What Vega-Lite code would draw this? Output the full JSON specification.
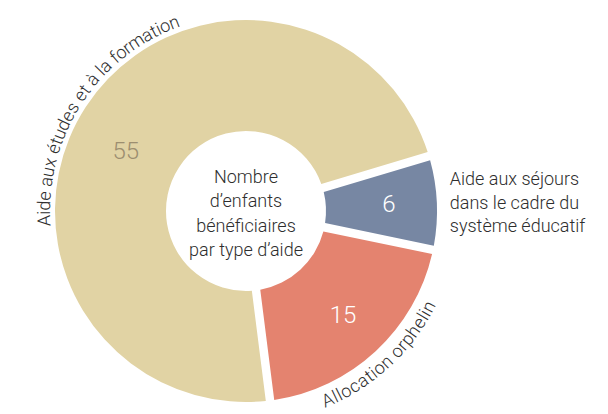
{
  "$schema": "https://vega.github.io/schema/vega-lite/v6.json",
  "width": 492,
  "height": 406,
  "autosize": {"type": "none"},
  "padding": {"left": 0, "top": 8, "right": 116, "bottom": 0},
  "background": "white",
  "config": {"view": {"stroke": null}, "font": "Roboto", "text": {"font": "Roboto"}},
  "datasets": {
    "aides": [
      {"type": "Aide aux séjours\ndans le cadre du\nsystème éducatif", "enfants": 6},
      {"type": "Allocation orphelin", "enfants": 15},
      {"type": "Aide aux études et à la formation", "enfants": 55}
    ],
    "titre": [
      {"t": "Nombre\nd’enfants\nbénéficiaires\npar type d’aide"}
    ]
  },
  "layer": [
    {
      "data": {"name": "aides"},
      "transform": [
        {"stack": "enfants", "groupby": [], "as": ["s0", "s1"]},
        {"joinaggregate": [{"op": "sum", "field": "enfants", "as": "total"}]},
        {"calculate": "(datum.s0 + datum.s1) / 2", "as": "mid"}
      ],
      "layer": [
        {
          "mark": {"type": "arc", "radius": 191, "innerRadius": 80, "padAngle": 0.041},
          "encoding": {
            "theta": {"field": "enfants", "type": "quantitative", "scale": {"range": [1.2793, 7.5625]}},
            "order": {"field": "s0", "type": "quantitative", "sort": "ascending"},
            "color": {
              "field": "type",
              "type": "nominal",
              "legend": null,
              "scale": {
                "domain": ["Aide aux séjours\ndans le cadre du\nsystème éducatif", "Allocation orphelin", "Aide aux études et à la formation"],
                "range": ["#7787A3", "#E4836F", "#E1D3A4"]
              }
            }
          }
        },
        {
          "transform": [{"filter": "datum.enfants / datum.total < 0.5"}],
          "mark": {"type": "text", "radius": 143, "fontSize": 24, "fontWeight": 300, "align": "center", "baseline": "middle", "color": "white"},
          "encoding": {
            "theta": {"field": "mid", "type": "quantitative", "stack": null},
            "text": {"field": "enfants", "type": "quantitative"}
          }
        },
        {
          "transform": [{"filter": "datum.enfants / datum.total >= 0.5"}],
          "mark": {"type": "text", "radius": 134, "thetaOffset": -0.12, "fontSize": 24, "fontWeight": 300, "align": "center", "baseline": "middle", "color": "#9C8E70"},
          "encoding": {
            "theta": {"field": "mid", "type": "quantitative", "stack": null},
            "text": {"field": "enfants", "type": "quantitative"}
          }
        },
        {
          "transform": [{"filter": "datum.enfants / datum.total < 0.15"}],
          "mark": {"type": "text", "radius": 204, "dy": -22, "align": "left", "baseline": "middle", "lineBreak": "\n", "fontSize": 18, "fontWeight": 300, "lineHeight": 23.5, "color": "#2E2E2E"},
          "encoding": {
            "theta": {"field": "mid", "type": "quantitative", "stack": null},
            "text": {"field": "type", "type": "nominal"}
          }
        },
        {
          "transform": [
            {"filter": "datum.enfants / datum.total >= 0.15"},
            {"calculate": "split(datum.type, '')", "as": "chars"},
            {"flatten": ["chars"], "as": ["c"]},
            {"calculate": "indexof('ijlí', datum.c) >= 0 ? 4.4 : indexof('tfr', datum.c) >= 0 ? 6.1 : datum.c == ' ' ? 4.5 : datum.c == 'm' ? 15.8 : indexof('wA', datum.c) >= 0 ? 11.8 : 9.9", "as": "w"},
            {"window": [{"op": "sum", "field": "w", "as": "cum"}], "groupby": ["type"], "frame": [null, 0]},
            {"joinaggregate": [{"op": "sum", "field": "w", "as": "L"}], "groupby": ["type"]},
            {"calculate": "datum.cum - datum.w / 2 - datum.L / 2", "as": "pos"},
            {"calculate": "(73.3 + datum.mid / datum.total * 360) % 360", "as": "md"},
            {"calculate": "datum.md > 90 && datum.md < 270 ? -1 : 1", "as": "sg"},
            {"calculate": "datum.sg * datum.pos / 204 * 180 / PI", "as": "dd"},
            {"calculate": "datum.mid + datum.dd / 360 * datum.total", "as": "tv"},
            {"calculate": "datum.md + datum.dd - (datum.sg < 0 ? 180 : 0)", "as": "rot"}
          ],
          "mark": {"type": "text", "radius": 204, "dy": 3, "align": "center", "baseline": "middle", "fontSize": 18, "fontWeight": 300, "color": "#2E2E2E"},
          "encoding": {
            "theta": {"field": "tv", "type": "quantitative", "stack": null},
            "text": {"field": "c", "type": "nominal"},
            "angle": {"field": "rot", "type": "quantitative", "scale": null}
          }
        }
      ]
    },
    {
      "data": {"name": "titre"},
      "mark": {"type": "text", "align": "center", "baseline": "middle", "dy": -33, "lineBreak": "\n", "fontSize": 18, "fontWeight": 300, "lineHeight": 24.3, "color": "#2E2E2E"},
      "encoding": {"text": {"field": "t", "type": "nominal"}}
    }
  ]
}
